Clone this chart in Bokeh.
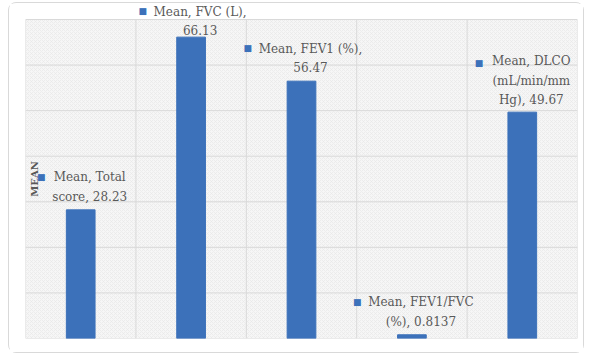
import math
from bokeh.plotting import figure
from bokeh.models import Range1d, ColumnDataSource
from bokeh.core.properties import value
from bokeh.embed import file_html
from bokeh.resources import INLINE

# ---- data ----
series_name = "Mean"
categories = ["Total score", "FVC (L)", "FEV1 (%)", "FEV1/FVC (%)", "DLCO (mL/min/mm Hg)"]
values = [28.23, 66.13, 56.47, 0.8137, 49.67]
y_ticks = [0, 10, 20, 30, 40, 50, 60, 70]
axis_title = "MEAN"

# data labels (series name, category, value), wrapped as in the reference
label_texts = [
    f"{series_name}, Total\nscore, {values[0]}",
    f"{series_name}, FVC (L),\n{values[1]}",
    f"{series_name}, FEV1 (%),\n{values[2]}",
    f"{series_name}, FEV1/FVC\n(%), {values[3]}",
    f"{series_name}, DLCO\n(mL/min/mm\nHg), {values[4]}",
]

# ---- layout / style ----
BLUE = "#3C71BA"
TEXT = "#595959"
GRID = "#d9d9d9"
FS = 12
LH = 1.4
label_gap = [6, -1, 6, 6, 5]  # px between bar top and label
PLOT_H = 319      # px height of the plotting area (0..70)
HEAD = 16         # px of free room above the plotting area, inside the frame

# approximate glyph advance widths (em) for placing the legend key
W = {' ': .318, ',': .318, '.': .318, '(': .39, ')': .39, '/': .337, '%': .95,
     'M': .995, 'T': .733, 'F': .714, 'V': .722, 'C': .734, 'L': .675, 'E': .73,
     'D': .83, 'O': .82, 'H': .872, 'm': 1.05, 'i': .32, 'n': .644, 'e': .592,
     'a': .596, 'o': .602, 't': .402, 'l': .32, 's': .513, 'c': .56, 'r': .478, 'g': .635}


def text_w(s):
    return sum(W.get(ch, .636) for ch in s) * FS


y0, y1 = y_ticks[0], y_ticks[-1]
ncat = len(categories)
y_top = y0 + (y1 - y0) * (PLOT_H + HEAD) / PLOT_H

p = figure(width=576, height=351, x_range=Range1d(0, ncat),
           y_range=Range1d(y0, y_top),
           output_backend="svg", toolbar_location=None,
           min_border_left=16, min_border_right=8, min_border_top=0, min_border_bottom=16,
           margin=(2, 0, 0, 8))
p.styles = {"border": "1px solid #d9d9d9", "border-radius": "8px", "background": "white"}
p.background_fill_color = "white"
p.border_fill_color = "white"
p.outline_line_color = None
p.xaxis.visible = False
p.yaxis.visible = False
p.xgrid.visible = False
p.ygrid.visible = False

# plotting area with light textured fill
p.quad(left=[0], right=[ncat], bottom=[y0], top=[y1], fill_color="#f6f6f6",
       line_color=None, hatch_pattern="x", hatch_color="#e6e6e6",
       hatch_scale=4, hatch_weight=0.6)
# grid lines: category boundaries and value ticks
xb = list(range(ncat + 1))
p.segment(x0=xb, x1=xb, y0=[y0] * len(xb), y1=[y1] * len(xb), line_color=GRID, line_width=1)
p.segment(x0=[0] * len(y_ticks), x1=[ncat] * len(y_ticks), y0=y_ticks, y1=y_ticks,
          line_color=GRID, line_width=1)

xs = [i + 0.5 for i in range(ncat)]
p.vbar(x=xs, top=values, width=0.26, color=BLUE)

# axis title drawn over the plot like the original
p.text(x=[0], y=[(y0 + y1) / 2], text=[axis_title], angle=math.pi / 2,
       x_offset=9, text_align="center", text_baseline="middle",
       text_font=value("DejaVu Serif"), text_font_style="bold",
       text_font_size="10px", text_color=TEXT)

# data labels
src = ColumnDataSource(dict(x=xs, y=values, text=label_texts, yo=[-g for g in label_gap]))
p.text(x="x", y="y", text="text", source=src, x_offset=9, y_offset="yo",
       text_align="center", text_baseline="bottom", text_line_height=LH,
       text_font=value("DejaVu Serif"), text_font_size=f"{FS}px", text_color=TEXT)

# legend keys to the left of each label
kx, ky = [], []
for t, g in zip(label_texts, label_gap):
    lines = t.split("\n")
    wmax = max(text_w(l) for l in lines)
    kx.append(9 - wmax / 2 - 11)
    ky.append(-(g + (len(lines) - 0.5) * FS * LH) - 2)
ksrc = ColumnDataSource(dict(x=xs, y=values, kx=kx, ky=ky, t=["\u25a0"] * ncat))
p.text(x="x", y="y", text="t", source=ksrc, x_offset="kx", y_offset="ky",
       text_align="center", text_baseline="middle",
       text_font=value("DejaVu Sans"), text_font_size="9px", text_color=BLUE)

open("out.html", "w").write(file_html(p, INLINE))
